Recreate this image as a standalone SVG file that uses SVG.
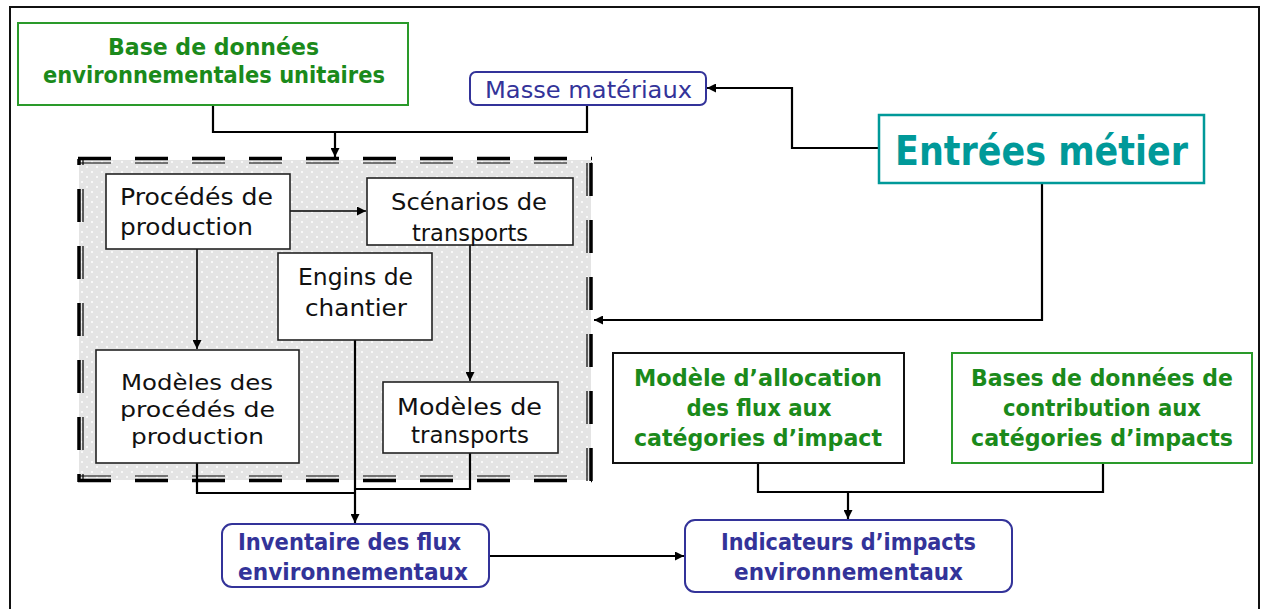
<svg xmlns="http://www.w3.org/2000/svg" width="1262" height="609" viewBox="0 0 1262 609">
<style>
text{font-family:"DejaVu Sans","Liberation Sans",sans-serif;}
.reg{font-size:23.5px;fill:#111;}
.bg{font-size:23px;font-weight:bold;fill:#1b8a1b;}
.bb{font-size:23px;font-weight:bold;fill:#333399;}
.box{fill:#fff;stroke:#222;stroke-width:1.6;}
.gbox{fill:#fff;stroke:#2a9a2a;stroke-width:2;}
.kbox{fill:#fff;stroke:#111;stroke-width:2;}
.rbox{fill:#fff;stroke:#333399;stroke-width:2;}
.c{fill:none;stroke:#000;stroke-width:2.2;}
.ci{fill:none;stroke:#000;stroke-width:1.6;}
.dk{fill:none;stroke:#000;stroke-width:3.5;stroke-dasharray:33 24;}
.dt{fill:none;stroke:#000;stroke-width:1.2;stroke-dasharray:33 24;}
</style>
<defs>
<pattern id="dots" width="10" height="10" patternUnits="userSpaceOnUse">
<rect width="10" height="10" fill="#e4e4e4"/>
<circle cx="2" cy="2" r="1" fill="#fff"/>
<circle cx="7" cy="7" r="1" fill="#fff"/>
</pattern>
<marker id="ah" viewBox="0 0 10 10" refX="10" refY="5" markerWidth="9" markerHeight="9" markerUnits="userSpaceOnUse" orient="auto">
<path d="M0,0 L10,5 L0,10 z" fill="#000"/>
</marker>
</defs>
<rect width="1262" height="609" fill="#fff"/>
<path d="M10,612 V7 H1259 V612" fill="none" stroke="#111" stroke-width="2"/>

<g id="zone">
<rect x="79" y="160" width="512" height="320" fill="url(#dots)"/>
<path class="dk" d="M78,158.5 H592"/>
<path class="dt" d="M78,163 H592"/>
<path class="dk" d="M78,480.5 H592"/>
<path class="dt" d="M78,476 H592"/>
<path class="dk" d="M79,159 V482" stroke-dashoffset="27"/>
<path class="dt" d="M83,159 V482" stroke-dashoffset="27"/>
<path class="dk" d="M591,159 V482" stroke-dashoffset="53"/>
<path class="dt" d="M587,159 V482" stroke-dashoffset="53"/>
</g>

<g id="connectors">
<path class="c" d="M213,105 V132 H587 V105"/>
<path class="c" d="M335,132 V157" marker-end="url(#ah)"/>
<path class="c" d="M879,148 H792 V88 H707" marker-end="url(#ah)"/>
<path class="c" d="M1042,183 V320 H594" marker-end="url(#ah)"/>
<path class="ci" d="M290,211 H366" marker-end="url(#ah)"/>
<path class="ci" d="M197,249 V349" marker-end="url(#ah)"/>
<path class="ci" d="M470,245 V381" marker-end="url(#ah)"/>
<path class="c" d="M197,463 V493 H355"/>
<path class="c" d="M470,453 V489 H355"/>
<path class="c" d="M355,340 V523" marker-end="url(#ah)"/>
<path class="c" d="M489,556 H684" marker-end="url(#ah)"/>
<path class="c" d="M758,463 V492 H1103 V463"/>
<path class="c" d="M848,492 V519" marker-end="url(#ah)"/>
</g>

<g id="base-donnees">
<rect class="gbox" x="18" y="23" width="390" height="82"/>
<text class="bg" x="213.5" y="55" text-anchor="middle" textLength="211" lengthAdjust="spacingAndGlyphs">Base de données</text>
<text class="bg" x="214" y="83" text-anchor="middle" textLength="342" lengthAdjust="spacingAndGlyphs">environnementales unitaires</text>
</g>

<g id="masse-materiaux">
<rect class="rbox" x="470" y="72" width="236" height="33" rx="6"/>
<text class="reg" x="588.5" y="98" text-anchor="middle" style="fill:#333399" textLength="207" lengthAdjust="spacingAndGlyphs">Masse matériaux</text>
</g>

<g id="entrees-metier">
<rect x="879" y="115" width="325" height="68" fill="#fff" stroke="#009999" stroke-width="2.5"/>
<text x="1041.5" y="165" text-anchor="middle" font-size="41" font-weight="bold" fill="#009999" textLength="293" lengthAdjust="spacingAndGlyphs">Entrées métier</text>
</g>

<g id="procedes">
<rect class="box" x="106" y="174" width="184" height="75"/>
<text class="reg" x="120" y="205" textLength="153" lengthAdjust="spacingAndGlyphs">Procédés de</text>
<text class="reg" x="120" y="235" textLength="133" lengthAdjust="spacingAndGlyphs">production</text>
</g>

<g id="scenarios">
<rect class="box" x="367" y="178" width="206" height="67"/>
<text class="reg" x="469" y="210" text-anchor="middle" textLength="156" lengthAdjust="spacingAndGlyphs">Scénarios de</text>
<text class="reg" x="470" y="241" text-anchor="middle" textLength="116" lengthAdjust="spacingAndGlyphs">transports</text>
</g>

<g id="engins">
<rect class="box" x="278" y="253" width="154" height="87"/>
<text class="reg" x="355.5" y="285" text-anchor="middle" textLength="115" lengthAdjust="spacingAndGlyphs">Engins de</text>
<text class="reg" x="356" y="316" text-anchor="middle" textLength="102" lengthAdjust="spacingAndGlyphs">chantier</text>
</g>

<g id="modeles-procedes">
<rect class="box" x="96" y="350" width="203" height="113"/>
<text class="reg" x="197" y="390" text-anchor="middle" font-size="22" style="font-size:22px" textLength="152" lengthAdjust="spacingAndGlyphs">Modèles des</text>
<text class="reg" x="197.5" y="417" text-anchor="middle" style="font-size:22px" textLength="155" lengthAdjust="spacingAndGlyphs">procédés de</text>
<text class="reg" x="197.5" y="444" text-anchor="middle" style="font-size:22px" textLength="133" lengthAdjust="spacingAndGlyphs">production</text>
</g>

<g id="modeles-transports">
<rect class="box" x="383" y="382" width="175" height="71"/>
<text class="reg" x="469.5" y="415" text-anchor="middle" textLength="145" lengthAdjust="spacingAndGlyphs">Modèles de</text>
<text class="reg" x="470" y="443" text-anchor="middle" textLength="118" lengthAdjust="spacingAndGlyphs">transports</text>
</g>

<g id="modele-allocation">
<rect class="kbox" x="613" y="353" width="291" height="110"/>
<text class="bg" x="758" y="386" text-anchor="middle" textLength="248" lengthAdjust="spacingAndGlyphs">Modèle d’allocation</text>
<text class="bg" x="759" y="416" text-anchor="middle" textLength="145" lengthAdjust="spacingAndGlyphs">des flux aux</text>
<text class="bg" x="758" y="446" text-anchor="middle" textLength="248" lengthAdjust="spacingAndGlyphs">catégories d’impact</text>
</g>

<g id="bases-contribution">
<rect class="gbox" x="952" y="353" width="300" height="110"/>
<text class="bg" x="1102" y="386" text-anchor="middle" textLength="262" lengthAdjust="spacingAndGlyphs">Bases de données de</text>
<text class="bg" x="1102" y="416" text-anchor="middle" textLength="198" lengthAdjust="spacingAndGlyphs">contribution aux</text>
<text class="bg" x="1102" y="446" text-anchor="middle" textLength="262" lengthAdjust="spacingAndGlyphs">catégories d’impacts</text>
</g>

<g id="inventaire">
<rect class="rbox" x="222" y="524" width="267" height="63" rx="10"/>
<text class="bb" x="238" y="550" textLength="223" lengthAdjust="spacingAndGlyphs">Inventaire des flux</text>
<text class="bb" x="238" y="580" textLength="230" lengthAdjust="spacingAndGlyphs">environnementaux</text>
</g>

<g id="indicateurs">
<rect class="rbox" x="685" y="520" width="327" height="72" rx="10"/>
<text class="bb" x="848.5" y="550" text-anchor="middle" textLength="255" lengthAdjust="spacingAndGlyphs">Indicateurs d’impacts</text>
<text class="bb" x="848.5" y="580" text-anchor="middle" textLength="229" lengthAdjust="spacingAndGlyphs">environnementaux</text>
</g>
</svg>
